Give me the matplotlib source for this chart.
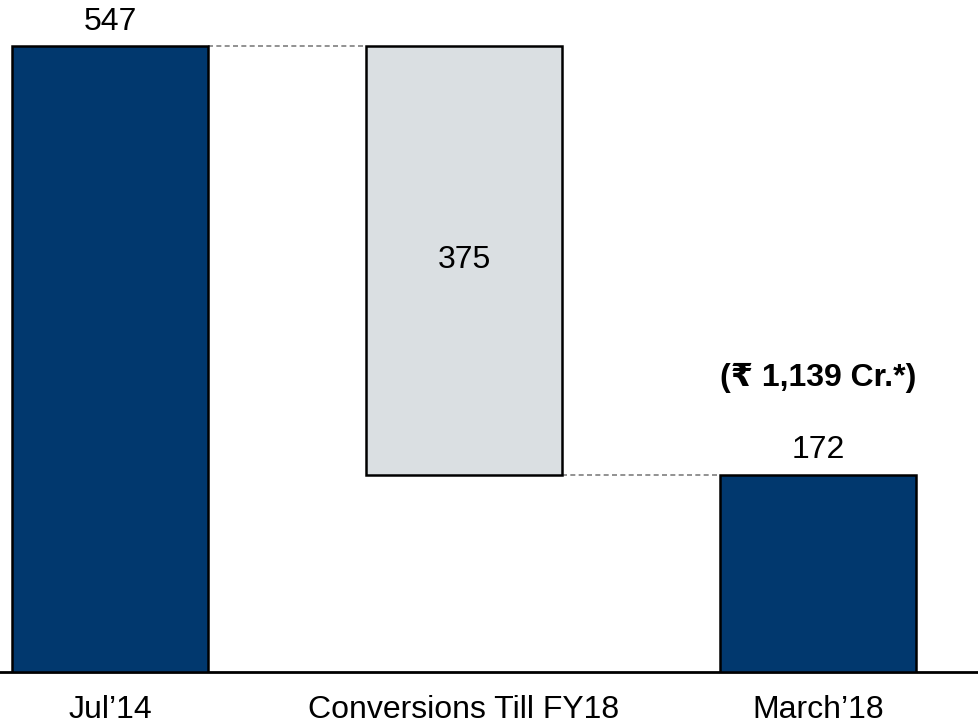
import matplotlib
matplotlib.use("Agg")
import matplotlib.pyplot as plt

categories = ["Jul\u201914", "Conversions Till FY18", "March\u201918"]
start_value = 547
conversions = 375
end_value = 172
note_text = "(\u20b9 1,139 Cr.*)"

navy = "#01386E"
light = "#DADFE2"

fig = plt.figure(figsize=(9.79, 7.24), dpi=100)
ax = fig.add_axes([0, 0.0725, 1, 0.9275])

x = [0, 1, 2]
bottoms = [0, end_value, 0]
heights = [start_value, conversions, end_value]
colors = [navy, light, navy]
width = 0.554

ax.bar(x, heights, bottom=bottoms, width=width, color=colors,
       edgecolor="black", linewidth=1.8, zorder=3)

# connectors
ax.plot([x[0] + width / 2, x[1] - width / 2], [start_value, start_value],
        color="#7f7f7f", linestyle=(0, (3, 2)), linewidth=1.2, zorder=2)
ax.plot([x[1] + width / 2, x[2] - width / 2], [end_value, end_value],
        color="#7f7f7f", linestyle=(0, (3, 2)), linewidth=1.2, zorder=2)

fam = ["Liberation Sans", "DejaVu Sans"]
fs = 23
ax.annotate(str(start_value), (x[0], start_value), xytext=(0, 17),
            textcoords="offset points", ha="center", va="center",
            fontsize=fs, family=fam)
ax.text(x[1], end_value + conversions / 2, str(conversions), ha="center",
        va="center", fontsize=fs, family=fam)
ax.annotate(str(end_value), (x[2], end_value), xytext=(0, 18),
            textcoords="offset points", ha="center", va="center",
            fontsize=fs, family=fam)
ax.annotate(note_text, (x[2], end_value), xytext=(0, 70),
            textcoords="offset points", ha="center", va="center",
            fontsize=fs, family=fam, fontweight="bold")

ax.set_xlim(-0.311, 2.455)
ax.set_ylim(0, 587)
ax.set_xticks(x)
ax.set_xticklabels(categories, fontsize=fs, family=fam)
ax.tick_params(axis="x", length=0, pad=17)
ax.set_yticks([])
for s in ["top", "left", "right"]:
    ax.spines[s].set_visible(False)
ax.spines["bottom"].set_linewidth(2)
ax.spines["bottom"].set_color("black")
ax.patch.set_visible(False)

fig.savefig("out.png", dpi=100, facecolor="white")
